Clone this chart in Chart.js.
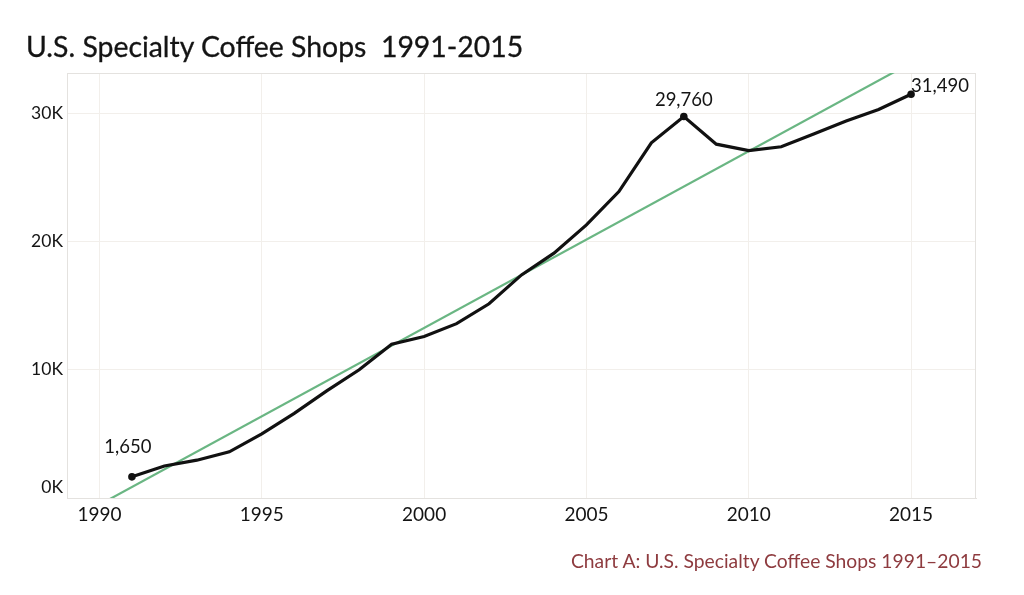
<!DOCTYPE html>
<html>
<head>
<meta charset="utf-8">
<script src="https://cdn.jsdelivr.net/npm/chart.js@4"></script>
<style>
  html, body { margin: 0; padding: 0; background: #ffffff; }
  #wrap { position: relative; width: 1024px; height: 595px; overflow: hidden; }
  #title { position: absolute; left: 26px; top: 29px; font-family: Lato, "Open Sans", sans-serif; font-size: 28.4px; color: #141414; white-space: pre; -webkit-text-stroke: 0.3px #141414; }
  #caption { position: absolute; right: 42px; top: 549px; font-family: Lato, "Open Sans", sans-serif; font-size: 19.3px; color: #8e3b3f; white-space: pre; }
  canvas { position: absolute; left: 0; top: 0; }
</style>
</head>
<body>
<div id="wrap">
  <canvas id="c" width="1024" height="595"></canvas>
  <div id="title">U.S. Specialty Coffee Shops  1991-2015</div>
  <div id="caption">Chart A: U.S. Specialty Coffee Shops 1991–2015</div>
</div>
<script>
// ---- data ----
const years = [1991, 1992, 1993, 1994, 1995, 1996, 1997, 1998, 1999, 2000, 2001, 2002, 2003,
               2004, 2005, 2006, 2007, 2008, 2009, 2010, 2011, 2012, 2013, 2014, 2015];
const shops = [1650, 2500, 2950, 3600, 5000, 6600, 8350, 10000, 12000, 12600, 13600, 15150, 17400,
               19100, 21300, 23900, 27700, 29760, 27600, 27100, 27400, 28400, 29400, 30300, 31490];
const trendYears = [1989, 2017];
const trendShops = [-1900, 36700];
const labeledYears = [1991, 2008, 2015];
const xTicks = [1990, 1995, 2000, 2005, 2010, 2015];
const yTicks = [0, 10000, 20000, 30000];
const yTickLabels = ['0K', '10K', '20K', '30K'];

const FONT = 'Lato, "Open Sans", sans-serif';
const GRID = '#f2efeb';
const FRAME = '#e4e2df';
const INK = '#141414';

const framePlugin = {
  id: 'frame',
  beforeDatasetsDraw(chart) {
    const a = chart.chartArea, ctx = chart.ctx;
    ctx.save();
    ctx.strokeStyle = FRAME;
    ctx.lineWidth = 1;
    ctx.strokeRect(a.left + 0.5, a.top + 0.5, a.right - a.left - 1, a.bottom - a.top);
    ctx.restore();
  }
};

const labelPlugin = {
  id: 'pointLabels',
  afterDatasetsDraw(chart) {
    const ctx = chart.ctx;
    const xs = chart.scales.x, ys = chart.scales.y;
    ctx.save();
    ctx.font = '18.5px ' + FONT;
    ctx.fillStyle = INK;
    labeledYears.forEach((yr, k) => {
      const i = years.indexOf(yr);
      const px = xs.getPixelForValue(years[i]);
      const py = ys.getPixelForValue(shops[i]);
      const txt = shops[i].toLocaleString('en-US');
      ctx.textBaseline = 'alphabetic';
      if (k === 0) {
        ctx.textAlign = 'center';
        ctx.fillText(txt, px - 4, py - 24);
      } else if (k === 1) {
        ctx.textAlign = 'center';
        ctx.fillText(txt, px, py - 10);
      } else {
        ctx.textAlign = 'left';
        ctx.fillText(txt, px, py - 2);
      }
    });
    ctx.restore();
  }
};

new Chart(document.getElementById('c'), {
  type: 'line',
  data: {
    datasets: [
      {
        label: 'Specialty coffee shops',
        data: years.map((y, i) => ({ x: y, y: shops[i] })),
        borderColor: '#111111',
        backgroundColor: '#111111',
        borderWidth: 3.2,
        tension: 0,
        pointRadius: years.map(y => labeledYears.includes(y) ? 2.2 : 0),
        pointHoverRadius: 0,
        order: 1
      },
      {
        label: 'Trend',
        data: trendYears.map((y, i) => ({ x: y, y: trendShops[i] })),
        borderColor: '#6ab683',
        borderWidth: 2.2,
        pointRadius: 0,
        tension: 0,
        order: 2
      }
    ]
  },
  options: {
    responsive: false,
    animation: false,
    events: [],
    layout: { padding: { top: 73, right: 48, bottom: 0, left: 0 } },
    plugins: { legend: { display: false }, tooltip: { enabled: false }, title: { display: false } },
    scales: {
      x: {
        type: 'linear',
        min: 1989,
        max: 2017,
        afterFit(s) { s.height = 97; },
        afterBuildTicks(s) { s.ticks = xTicks.map(v => ({ value: v })); },
        grid: { color: GRID, drawTicks: false, lineWidth: 1 },
        border: { display: true, color: FRAME },
        ticks: { font: { family: FONT, size: 19 }, color: INK, padding: 5, maxRotation: 0, callback: v => String(v) }
      },
      y: {
        type: 'linear',
        min: 0,
        max: 33150,
        afterFit(s) { s.width = 67; },
        afterBuildTicks(s) { s.ticks = yTicks.map(v => ({ value: v })); },
        grid: { color: GRID, drawTicks: false, lineWidth: 1 },
        border: { display: true, color: FRAME },
        ticks: {
          font: { family: FONT, size: 17.5 }, color: INK, padding: 4,
          callback: v => {
            const t = yTickLabels[yTicks.indexOf(v)];
            return v === yTicks[0] ? [t, ''] : t;   // lift the bottom label above the axis line
          }
        }
      }
    }
  },
  plugins: [framePlugin, labelPlugin]
});
</script>
</body>
</html>
